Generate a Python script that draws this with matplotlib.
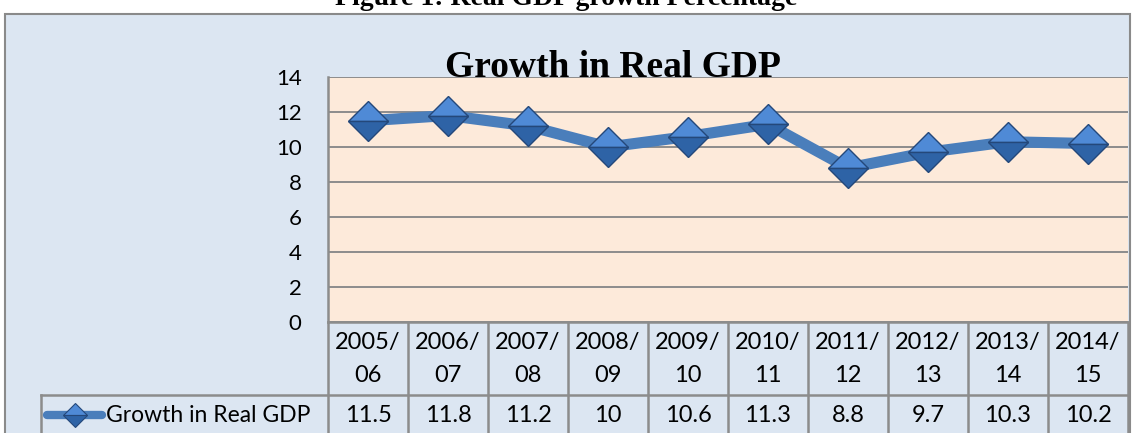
import matplotlib.pyplot as plt
from matplotlib.lines import Line2D
from matplotlib.patches import Rectangle

years = ['2005/\n06', '2006/\n07', '2007/\n08', '2008/\n09', '2009/\n10',
         '2010/\n11', '2011/\n12', '2012/\n13', '2013/\n14', '2014/\n15']
growth = [11.5, 11.8, 11.2, 10, 10.6, 11.3, 8.8, 9.7, 10.3, 10.2]
value_labels = ['11.5', '11.8', '11.2', '10', '10.6', '11.3', '8.8', '9.7', '10.3', '10.2']
series_name = 'Growth in Real GDP'
yticks = [0, 2, 4, 6, 8, 10, 12, 14]

W, H = 1132, 433
def fx(px):
    return px / W
def fy(py):
    return 1 - py / H

BG = '#DCE6F2'
PLOT_BG = '#FDEADA'
GRID = '#8C8C8C'
LINE = '#4A7EBB'
MK_TOP = '#4F8AD6'
MK_BOT = '#2E63A6'
MK_EDGE = '#24487A'
SANS = ['Lato', 'DejaVu Sans']
SERIF = ['Liberation Serif', 'DejaVu Serif']

fig = plt.figure(figsize=(W / 100, H / 100), dpi=100)
fig.patch.set_facecolor('white')

# chart frame
fig.add_artist(Rectangle((fx(5), -0.2), fx(1130) - fx(5), fy(14) + 0.2,
                         transform=fig.transFigure, facecolor=BG,
                         edgecolor='#8A8A8A', lw=1.5, zorder=0))

fig.text(fx(566), fy(5), 'Figure 1: Real GDP growth Percentage', ha='center',
         va='baseline', fontsize=20, fontweight='bold', family=SERIF)

ax = fig.add_axes([fx(328), fy(322), fx(1128) - fx(328), fy(77) - fy(322)])
ax.set_facecolor(PLOT_BG)
ax.set_xlim(-0.5, len(growth) - 0.5)
ax.set_ylim(0, 14)
ax.set_yticks(yticks)
ax.set_yticklabels([str(t) for t in yticks], family=SANS, fontsize=16)
ax.tick_params(axis='y', length=0, pad=19)
ax.set_xticks([])
for t in yticks:
    ax.axhline(t, color=GRID, lw=1.4, zorder=1)
for s in ['top', 'right']:
    ax.spines[s].set_visible(False)
ax.spines['left'].set_color(GRID)
ax.spines['left'].set_linewidth(1.8)
ax.spines['bottom'].set_color(GRID)
ax.spines['bottom'].set_linewidth(1.8)

x = list(range(len(growth)))
ax.plot(x, growth, color=LINE, lw=8, solid_joinstyle='round', zorder=3)
ax.plot(x, growth, ls='none', marker='D', markersize=20, fillstyle='top',
        markerfacecolor=MK_TOP, markerfacecoloralt=MK_BOT,
        markeredgecolor=MK_EDGE, markeredgewidth=1, zorder=4)

ax.text(0.356, 1.0, 'Growth in Real GDP', transform=ax.transAxes, ha='center',
        va='baseline', fontsize=27, fontweight='bold', family=SERIF, zorder=5)

# data table below the plot
ly = fy(395)
fig.add_artist(Line2D([fx(41), fx(1128)], [ly, ly], color=GRID, lw=1.8,
                      transform=fig.transFigure))
fig.add_artist(Line2D([fx(41), fx(41)], [-0.1, ly], color=GRID, lw=1.8,
                      transform=fig.transFigure))
for i in range(len(growth) + 1):
    xp = 328 + 80 * i
    fig.add_artist(Line2D([fx(xp), fx(xp)], [-0.1, fy(322)], color=GRID, lw=1.8,
                          transform=fig.transFigure))
for i, (lab, v) in enumerate(zip(years, value_labels)):
    cx = fx(368 + 80 * i)
    top, bot = lab.split('\n')
    fig.text(cx, fy(342), top, ha='center', va='center', fontsize=17, family=SANS)
    fig.text(cx, fy(376), bot, ha='center', va='center', fontsize=17, family=SANS)
    fig.text(cx, fy(415), v, ha='center', va='center', fontsize=17, family=SANS)

fig.add_artist(Line2D([fx(47), fx(102)], [fy(415), fy(415)], color=LINE, lw=6,
                      solid_capstyle='round', transform=fig.transFigure))
fig.add_artist(Line2D([fx(75)], [fy(415)], marker='D', markersize=12,
                      fillstyle='top', markerfacecolor=MK_TOP,
                      markerfacecoloralt=MK_BOT, markeredgecolor=MK_EDGE,
                      markeredgewidth=0.8, transform=fig.transFigure))
fig.text(fx(106), fy(415), series_name, ha='left', va='center', fontsize=16.5,
         family=SANS)

fig.savefig('out.png', dpi=100)
